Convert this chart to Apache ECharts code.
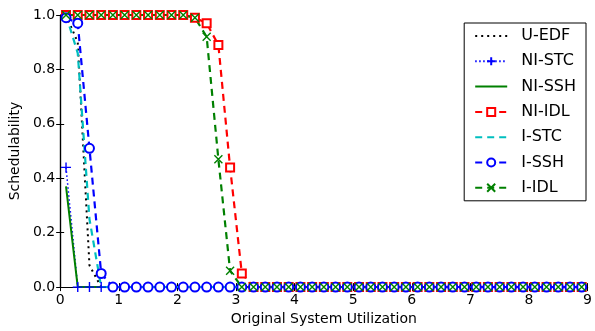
<!DOCTYPE html>
<html>
<head>
<meta charset="utf-8">
<script src="https://cdn.jsdelivr.net/npm/echarts@6/dist/echarts.min.js"></script>
<style>
html, body { margin: 0; padding: 0; background: #fff; }
#chart { width: 595px; height: 331px; }
</style>
</head>
<body>
<div id="chart"></div>
<script>
// x positions (original system utilization)
const utils = [0.1, 0.3, 0.5, 0.7, 0.9, 1.1, 1.3, 1.5, 1.7, 1.9, 2.1, 2.3, 2.5, 2.7, 2.9,
	3.1, 3.3, 3.5, 3.7, 3.9, 4.1, 4.3, 4.5, 4.7, 4.9, 5.1, 5.3, 5.5, 5.7, 5.9,
	6.1, 6.3, 6.5, 6.7, 6.9, 7.1, 7.3, 7.5, 7.7, 7.9, 8.1, 8.3, 8.5, 8.7, 8.9];

const uEdf = [1.0, 0.9, 0.08, 0, 0, 0, 0, 0, 0, 0, 0, 0, 0, 0, 0,
	0, 0, 0, 0, 0, 0, 0, 0, 0, 0, 0, 0, 0, 0, 0,
	0, 0, 0, 0, 0, 0, 0, 0, 0, 0, 0, 0, 0, 0, 0];
const niStc = [0.44, 0, 0, 0, 0, 0, 0, 0, 0, 0, 0, 0, 0, 0, 0,
	0, 0, 0, 0, 0, 0, 0, 0, 0, 0, 0, 0, 0, 0, 0,
	0, 0, 0, 0, 0, 0, 0, 0, 0, 0, 0, 0, 0, 0, 0];
const niSsh = [0.37, 0, 0, 0, 0, 0, 0, 0, 0, 0, 0, 0, 0, 0, 0,
	0, 0, 0, 0, 0, 0, 0, 0, 0, 0, 0, 0, 0, 0, 0,
	0, 0, 0, 0, 0, 0, 0, 0, 0, 0, 0, 0, 0, 0, 0];
const niIdl = [1, 1, 1, 1, 1, 1, 1, 1, 1, 1, 1, 0.99, 0.97, 0.89, 0.44,
	0.05, 0, 0, 0, 0, 0, 0, 0, 0, 0, 0, 0, 0, 0, 0,
	0, 0, 0, 0, 0, 0, 0, 0, 0, 0, 0, 0, 0, 0, 0];
const iStc = [1.0, 0.86, 0.25, 0, 0, 0, 0, 0, 0, 0, 0, 0, 0, 0, 0,
	0, 0, 0, 0, 0, 0, 0, 0, 0, 0, 0, 0, 0, 0, 0,
	0, 0, 0, 0, 0, 0, 0, 0, 0, 0, 0, 0, 0, 0, 0];
const iSsh = [0.99, 0.97, 0.51, 0.05, 0, 0, 0, 0, 0, 0, 0, 0, 0, 0, 0,
	0, 0, 0, 0, 0, 0, 0, 0, 0, 0, 0, 0, 0, 0, 0,
	0, 0, 0, 0, 0, 0, 0, 0, 0, 0, 0, 0, 0, 0, 0];
const iIdl = [1, 1, 1, 1, 1, 1, 1, 1, 1, 1, 1, 0.99, 0.92, 0.47, 0.06,
	0, 0, 0, 0, 0, 0, 0, 0, 0, 0, 0, 0, 0, 0, 0,
	0, 0, 0, 0, 0, 0, 0, 0, 0, 0, 0, 0, 0, 0, 0];

const FONT = 'DejaVu Sans';
const PLUS = 'path://M5,0L5,10M0,5L10,5';
const CROSS = 'path://M0,0L10,10M10,0L0,10';

const pairs = function (vals) {
	return utils.map((x, i) => [x, vals[i]]);
};

const mkSeries = function (name, vals, color, type, width, symbol, size) {
	return {
		name: name,
		type: 'line',
		data: pairs(vals),
		symbol: symbol || 'none',
		symbolSize: size || 8,
		showSymbol: !!symbol,
		animation: false,
		lineStyle: { color: color, width: width, type: type },
		itemStyle: { color: color, borderColor: color, borderWidth: 1.4 }
	};
};

// legend entries; the ones without markers get an invisible symbol
const legendNames = ['U-EDF', 'NI-STC', 'NI-SSH', 'NI-IDL', 'I-STC', 'I-SSH', 'I-IDL'];
const noMarker = ['U-EDF', 'NI-SSH', 'I-STC'];

const chart = echarts.init(document.getElementById('chart'));

const tickAxis = {
	axisLine: { show: true, lineStyle: { color: '#000', width: 1.2 } },
	axisTick: { show: true, inside: true, length: 4, lineStyle: { color: '#000' } },
	splitLine: { show: false }
};

chart.setOption({
	backgroundColor: '#fff',
	textStyle: { fontFamily: FONT },
	grid: { left: 60, right: 6, top: 15, bottom: 43 },
	legend: {
		orient: 'vertical',
		right: 9,
		top: 23,
		padding: [5, 10, 5, 10],
		itemGap: 9.3,
		itemWidth: 32,
		itemHeight: 10,
		backgroundColor: '#fff',
		borderColor: '#000',
		borderWidth: 1,
		borderRadius: 0,
		textStyle: { fontFamily: FONT, fontSize: 16, color: '#000', padding: [0, 0, 0, 9] },
		data: legendNames.map(n => noMarker.includes(n)
			? { name: n, itemStyle: { opacity: 0 } }
			: { name: n })
	},
	xAxis: [
		Object.assign({
			type: 'value', min: 0, max: 9, interval: 1, position: 'bottom',
			name: 'Original System Utilization', nameLocation: 'middle', nameGap: 24,
			nameTextStyle: { fontFamily: FONT, fontSize: 14, color: '#000' },
			axisLabel: { fontFamily: FONT, fontSize: 14, color: '#000', margin: 6 }
		}, tickAxis),
		Object.assign({
			type: 'value', min: 0, max: 9, interval: 1, position: 'top',
			axisLabel: { show: false }
		}, tickAxis)
	],
	yAxis: [
		Object.assign({
			type: 'value', min: 0, max: 1, interval: 0.2, position: 'left',
			name: 'Schedulability', nameLocation: 'middle', nameGap: 30,
			nameTextStyle: { fontFamily: FONT, fontSize: 14, color: '#000' },
			axisLabel: {
				fontFamily: FONT, fontSize: 14, color: '#000', margin: 5,
				formatter: v => v.toFixed(1)
			}
		}, tickAxis),
		Object.assign({
			type: 'value', min: 0, max: 1, interval: 0.2, position: 'right',
			axisLabel: { show: false }
		}, tickAxis)
	],
	series: [
		mkSeries('U-EDF', uEdf, '#000000', [2, 4], 2),
		mkSeries('NI-STC', niStc, '#0000ff', [1.5, 2.5], 1.5, PLUS, 10),
		mkSeries('NI-SSH', niSsh, '#008000', 'solid', 2),
		mkSeries('NI-IDL', niIdl, '#ff0000', [7, 5], 2.2, 'emptyRect', 8),
		mkSeries('I-STC', iStc, '#00bfbf', [7, 5], 2.2),
		mkSeries('I-SSH', iSsh, '#0000ff', [7, 5], 2.2, 'emptyCircle', 9),
		mkSeries('I-IDL', iIdl, '#008000', [7, 5], 2.2, CROSS, 8)
	]
});
</script>
</body>
</html>
